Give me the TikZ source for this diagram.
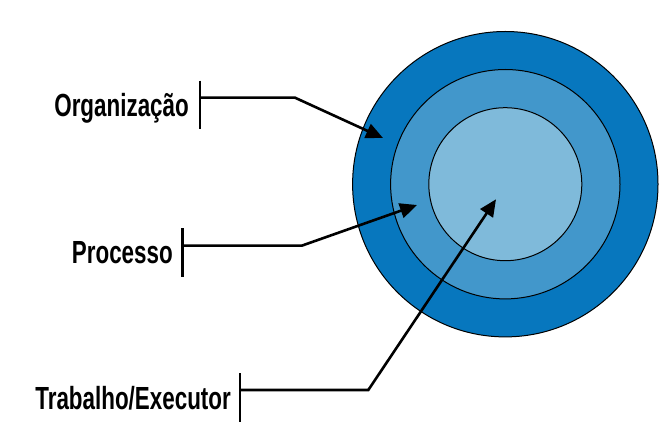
\documentclass[tikz,border=0pt]{standalone}
\usepackage{fontspec}
\newfontfamily\labfont[FakeStretch=0.70]{Liberation Sans}
\usetikzlibrary{arrows.meta}
\definecolor{ringA}{RGB}{7,119,190}
\definecolor{ringB}{RGB}{66,151,203}
\definecolor{ringC}{RGB}{127,186,218}
\tikzset{
  ring/.style={circle,draw=black,line width=1pt,inner sep=0pt},
  lab/.style={font=\labfont\bfseries\fontsize{32}{32}\selectfont,inner sep=0pt},
  tick/.style={line width=2.6pt},
  pointer/.style={line width=2.6pt,-{Triangle[length=17pt,width=15pt]}}
}
\begin{document}
\begin{tikzpicture}[x=1pt,y=-1pt]
\useasboundingbox (0,0) rectangle (666,435);
\node[ring,fill=ringA,minimum size=305.4pt] (org) at (505.3,184.2) {};
\node[ring,fill=ringB,minimum size=229.4pt] (proc) at (505.3,184.2) {};
\node[ring,fill=ringC,minimum size=153pt] (trab) at (505.3,184.2) {};
% labels
\node[lab,anchor=base east] (lorg) at (189,116.5) {Organização};
\node[lab,anchor=base east] (lproc) at (173,264) {Processo};
\node[lab,anchor=base east] (ltrab) at (231,409) {Trabalho/Executor};
% tick marks and corners
\coordinate (t1a) at (200,80.7);
\coordinate (t1b) at (200,129);
\coordinate (s1) at (200,97.7);
\coordinate (c1) at (295,97.7);
\coordinate (e1) at (383,138);
\coordinate (t2a) at (182.5,228.3);
\coordinate (t2b) at (182.5,277.3);
\coordinate (s2) at (182.5,245.7);
\coordinate (c2) at (301.7,245.7);
\coordinate (e2) at (417,205);
\coordinate (t3a) at (240,373.3);
\coordinate (t3b) at (240,421.7);
\coordinate (s3) at (240,390);
\coordinate (c3) at (368.3,390);
\coordinate (e3) at (496,199.3);
\draw[tick] (t1a) -- (t1b);
\draw[tick] (t2a) -- (t2b);
\draw[tick] (t3a) -- (t3b);
\draw[pointer] (s1) -- (c1) -- (e1);
\draw[pointer] (s2) -- (c2) -- (e2);
\draw[pointer] (s3) -- (c3) -- (e3);
\end{tikzpicture}
\end{document}
